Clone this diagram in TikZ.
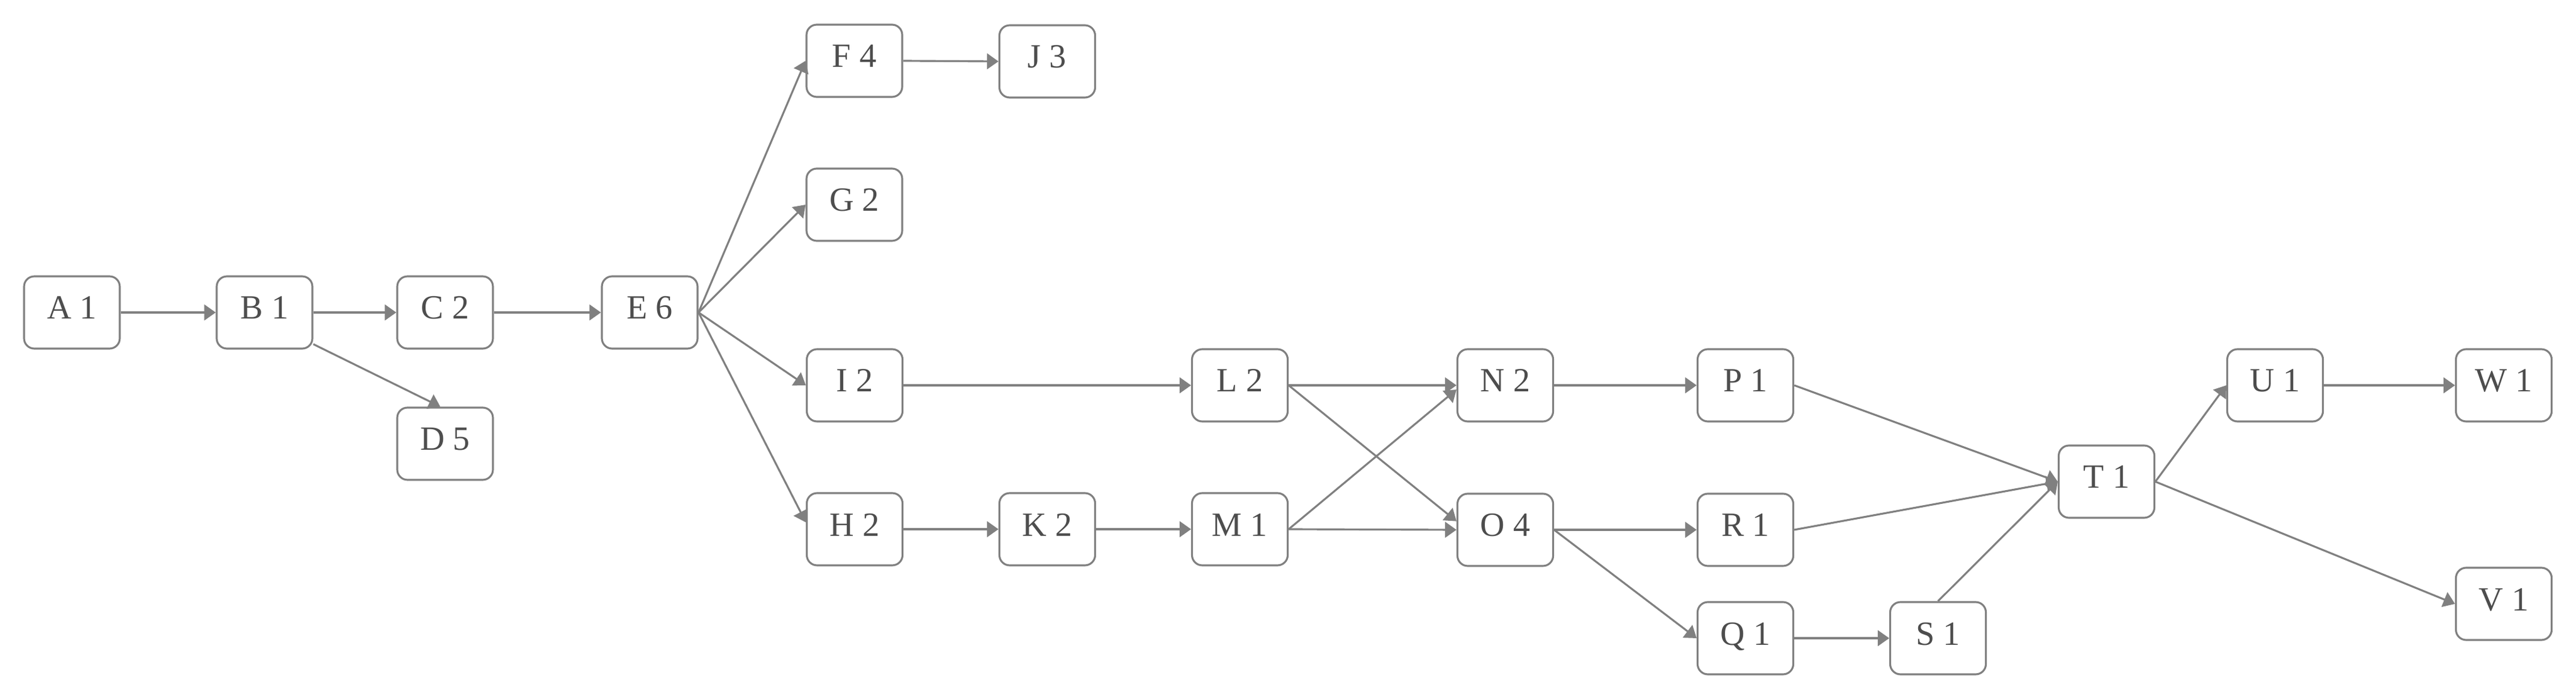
\documentclass[tikz,border=0pt]{standalone}
\usepackage{fontspec}
\setmainfont{Liberation Serif}
\usetikzlibrary{arrows.meta}
\definecolor{linegray}{HTML}{808080}
\definecolor{textgray}{HTML}{4D4D4D}

\begin{document}
\begin{tikzpicture}[scale=1]
        \tikzset{task/.style = {shape=rectangle,rounded corners=0.17cm,draw=linegray,line width=0.9pt,fill=white,minimum width=1.59cm,minimum height=1.2cm,inner sep=0pt,text=textgray,font=\fontsize{16}{19}\selectfont,text height=0.38cm,text depth=0.16cm}}
        \tikzset{edge/.style = {draw=linegray,line width=0.9pt,-{Triangle[length=0.19cm,width=0.26cm]}}}
        \useasboundingbox (0,0) rectangle (42.8,11.6);

        \node[task] (A) at (1.195, 6.41) {A 1};
        \node[task] (B) at (4.395, 6.41) {B 1};
        \node[task] (C) at (7.395, 6.41) {C 2};
        \node[task] (D) at (7.395, 4.23) {D 5};
        \node[task] (E) at (10.795, 6.41) {E 6};
        \node[task] (F) at (14.195, 10.59) {F 4};
        \node[task] (J) at (17.40, 10.58) {J 3};
        \node[task] (G) at (14.195, 8.20) {G 2};
        \node[task] (I) at (14.20, 5.20) {I 2};
        \node[task] (H) at (14.20, 2.81) {H 2};
        \node[task] (K) at (17.40, 2.81) {K 2};
        \node[task] (L) at (20.60, 5.20) {L 2};
        \node[task] (M) at (20.60, 2.81) {M 1};
        \node[task] (N) at (25.01, 5.20) {N 2};
        \node[task] (O) at (25.01, 2.80) {O 4};
        \node[task] (P) at (29.00, 5.20) {P 1};
        \node[task] (R) at (29.00, 2.80) {R 1};
        \node[task] (Q) at (29.00, 1.00) {Q 1};
        \node[task] (S) at (32.20, 1.00) {S 1};
        \node[task] (T) at (35.00, 3.60) {T 1};
        \node[task] (U) at (37.80, 5.20) {U 1};
        \node[task] (W) at (41.60, 5.20) {W 1};
        \node[task] (V) at (41.60, 1.57) {V 1};

        \draw[edge] (A.east) to (B.west);
        \draw[edge] (B.east) to (C.west);
        \draw[edge] (B.-33) to ([xshift=-0.08cm]D.north);
        \draw[edge] (C.east) to (E.west);

        \draw[edge] (E.east) to (F.west);
        \draw[edge] (E.east) to (G.west);
        \draw[edge] (E.east) to (I.west);
        \draw[edge] (E.east) to (H.172);
        \draw[edge] (F.east) to (J.west);

        \draw[edge] (I.east) to (L.west);
        \draw[edge] (H.east) to (K.west);
        \draw[edge] (K.east) to (M.west);
        \draw[edge] (L.east) to (N.west);
        \draw[edge] (L.east) to (O.170);
        \draw[edge] (M.east) to (N.185);
        \draw[edge] (M.east) to (O.west);

        \draw[edge] (N.east) to (P.west);
        \draw[edge] (O.east) to (R.west);
        \draw[edge] (O.east) to (Q.west);
        \draw[edge] (Q.east) to (S.west);
        \draw[edge] (P.east) to (T.west);
        \draw[edge] (R.east) to (T.west);
        \draw[edge] (S.north) to (T.west);

        \draw[edge] (T.east) to (U.west);
        \draw[edge] (T.east) to (V.west);
        \draw[edge] (U.east) to (W.west);
      \end{tikzpicture}
\end{document}
